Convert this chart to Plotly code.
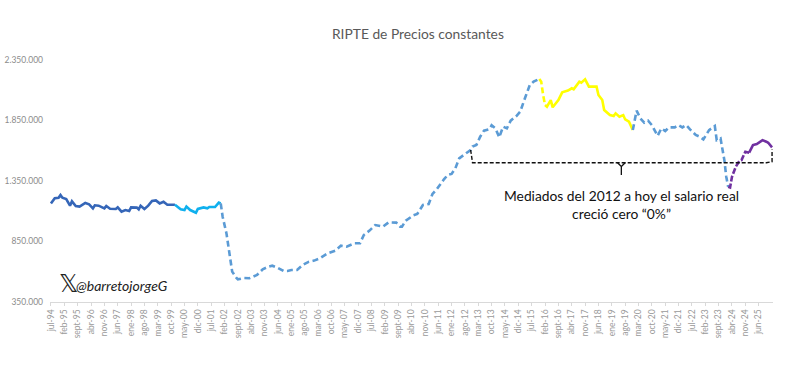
import plotly.graph_objects as go

TITLE = "RIPTE de Precios constantes"
TICK_LABELS = ["jul-94","feb-95","sept-95","abr-96","nov-96","jun-97","ene-98","ago-98","mar-99","oct-99",
"may-00","dic-00","jul-01","feb-02","sept-02","abr-03","nov-03","jun-04","ene-05","ago-05","mar-06","oct-06",
"may-07","dic-07","jul-08","feb-09","sept-09","abr-10","nov-10","jun-11","ene-12","ago-12","mar-13","oct-13",
"may-14","dic-14","jul-15","feb-16","sept-16","abr-17","nov-17","jun-18","ene-19","ago-19","mar-20","oct-20",
"may-21","dic-21","jul-22","feb-23","sept-23","abr-24","nov-24","jun-25"]
TICK_MONTHS = [i * 7 for i in range(len(TICK_LABELS))]
Y_TICKS = [350000, 850000, 1350000, 1850000, 2350000]
Y_LABELS = ["350.000", "850.000", "1.350.000", "1.850.000", "2.350.000"]

# months since jul-94, value in thousands of pesos
months = [0,2,4,5,6,8,9,10,11,13,15,18,20,22,23,25,28,29,31,34,35,37,39,41,42,45,46,47,49,51,53,55,57,59,61,65,
68,70,71,73,76,77,80,82,83,86,88,89,
90,92,93,94,95,97,98,101,104,108,111,114,116,119,122,124,126,129,132,135,138,141,145,149,152,155,159,162,164,167,170,
174,177,181,183,184,186,190,192,195,198,200,202,
206,208,210,212,214,216,218,220,221,223,225,227,230,231,233,235,237,239,241,244,246,248,251,253,256,
257,258,259,260,262,263,266,268,271,273,274,277,278,280,282,286,287,289,290,293,295,296,298,300,301,303,305,
307,309,311,313,315,318,320,322,324,327,329,331,333,335,338,340,342,345,348,349,351,353,354,355,
356,357,359,361,362,364,366,368,370,373,375,376,378]
values = [1165,1207,1212,1234,1212,1201,1174,1146,1182,1143,1138,1168,1157,1124,1149,1146,1124,1143,1121,1119,1132,1096,1110,1102,1132,1130,1116,1146,1119,1146,1185,1190,1165,1179,1154,1154,
1116,1110,1138,1110,1088,1119,1132,1124,1135,1135,1171,1165,
1055,917,807,683,601,554,537,548,546,573,620,642,650,631,606,606,614,614,656,681,692,711,752,774,816,807,835,835,904,940,986,
973,1008,1006,973,973,1022,1066,1077,1152,1160,1243,1276,
1364,1400,1408,1455,1537,1557,1584,1606,1634,1647,1716,1766,1780,1810,1785,1711,1799,1785,1849,1887,1923,2014,2143,2171,2193,
2171,2061,1978,1964,2019,1959,2019,2083,2097,2116,2108,2171,2163,2190,2130,2130,2061,2019,1937,1895,1887,1909,1882,1895,1859,1840,1771,
1931,1867,1832,1848,1812,1724,1785,1763,1793,1793,1812,1793,1812,1777,1730,1716,1694,1771,1804,1688,1702,1523,1385,1303,
1297,1385,1468,1518,1523,1592,1584,1647,1655,1688,1675,1666,1628]

# first month, last month, colour, dash
segments = [
    (0, 65, "#3566b8", "solid"),
    (65, 89, "#0fb0ee", "solid"),
    (89, 256, "#5b9bd5", "6px,3.5px"),
    (256, 259, "#ffff00", "6px,3px"),
    (259, 305, "#ffff00", "solid"),
    (305, 355, "#5b9bd5", "6px,3.5px"),
    (355, 366, "#7030a0", "6px,2px"),
    (366, 378, "#7030a0", "solid"),
]

fig = go.Figure()
for a, b, color, dash in segments:
    xs = [m for m in months if a <= m <= b]
    ys = [v * 1000 for m, v in zip(months, values) if a <= m <= b]
    fig.add_trace(go.Scatter(x=xs, y=ys, mode="lines", showlegend=False, hoverinfo="skip",
                             line=dict(color=color, width=2.6, dash=dash)))

bracket_x = [220, 221, 375, 378, 378]
bracket_y = [1606000, 1501000, 1501000, 1510000, 1610000]
fig.add_trace(go.Scatter(x=bracket_x, y=bracket_y, mode="lines", showlegend=False, hoverinfo="skip",
                         line=dict(color="#111111", width=1.4, dash="4px,2px")))
fig.add_trace(go.Scatter(x=[297, 299, 299, 299, 301], y=[1501000, 1470000, 1400000, 1470000, 1501000],
                         mode="lines", showlegend=False, hoverinfo="skip",
                         line=dict(color="#111111", width=1.3)))

fig.update_layout(
    width=790, height=366, margin=dict(l=50, r=17, t=60, b=64),
    paper_bgcolor="white", plot_bgcolor="white",
    font=dict(family="Lato", color="#8c8c8c"),
    title=dict(text=TITLE, x=0.529, xanchor="center", y=0.907, yanchor="middle",
               font=dict(family="Lato", size=13.8, color="#595959")),
    xaxis=dict(range=[-0.5, 378.5], tickvals=TICK_MONTHS, ticktext=TICK_LABELS, tickangle=-90,
               tickfont=dict(size=8.5, color="#9a9a9a"), showgrid=False, zeroline=False, showline=True,
               linecolor="#d9d9d9", ticks="outside", ticklen=3, tickcolor="#d9d9d9", automargin=False),
    yaxis=dict(range=[350000, 2350000], tickvals=Y_TICKS, ticktext=Y_LABELS, ticklabelstandoff=6,
               tickfont=dict(size=8.5, color="#8c8c8c"), showgrid=False, zeroline=False, showline=False,
               ticks="", automargin=False),
    annotations=[
        dict(xref="paper", yref="paper", x=0.79, y=0.483, xanchor="center", yanchor="top", align="center",
             showarrow=False, text="Mediados del 2012 a hoy el salario real<br>creció cero “0%”",
             font=dict(family="Lato", size=13.8, color="#111111")),
        dict(xref="x", yref="y", x=3, y=500000, xanchor="left", yanchor="middle", showarrow=False,
             text="𝕏", font=dict(family="DejaVu Sans", size=24, color="#222222")),
        dict(xref="x", yref="y", x=12, y=490000, xanchor="left", yanchor="middle", showarrow=False,
             text="<i>@barretojorgeG</i>", font=dict(family="Lato", size=14, color="#222222")),
    ],
)
fig.write_html("out.html", config={"displayModeBar": False}, post_script="document.body.style.margin='0';")
